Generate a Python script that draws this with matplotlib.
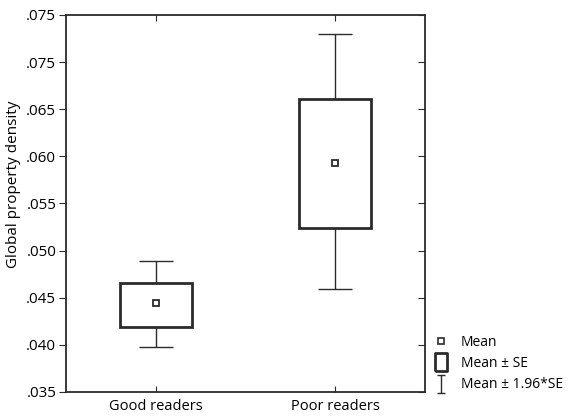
import numpy as np
import matplotlib
matplotlib.use('Agg')
import matplotlib.pyplot as plt
from matplotlib.lines import Line2D
from matplotlib.path import Path

# data
groups = ['Good readers', 'Poor readers']
means = [0.0444, 0.0593]
se_lo = [0.0419, 0.0524]
se_hi = [0.0466, 0.0661]
ci_lo = [0.0398, 0.0459]
ci_hi = [0.0489, 0.0730]

yticks = [0.035, 0.040, 0.045, 0.050, 0.055, 0.060, 0.065, 0.070, 0.075]
ytick_labels = ['.035', '.040', '.045', '.050', '.055', '.060', '.065', '.075', '.075']

dark = '#2b2b2b'
plt.rcParams['font.family'] = ['Open Sans', 'DejaVu Sans']
plt.rcParams['font.size'] = 10

fig = plt.figure(figsize=(5.7, 4.16), dpi=100)
ax = fig.add_axes([66/570, 24/416, 359/570, 377/416])

x = np.arange(1, len(groups) + 1)
box_w = 0.40
cap_w = 0.19

# whiskers
ax.vlines(x, ci_lo, se_lo, color=dark, lw=1.0, zorder=2)
ax.vlines(x, se_hi, ci_hi, color=dark, lw=1.0, zorder=2)
ax.hlines(ci_lo, x - cap_w/2, x + cap_w/2, color=dark, lw=1.0, zorder=2)
ax.hlines(ci_hi, x - cap_w/2, x + cap_w/2, color=dark, lw=1.0, zorder=2)

# SE boxes
heights = np.array(se_hi) - np.array(se_lo)
ax.bar(x, heights, bottom=se_lo, width=box_w, facecolor='white',
       edgecolor=dark, linewidth=2.0, zorder=3)

# means
ax.plot(x, means, 's', ms=5, mfc='white', mec=dark, mew=1.3, zorder=4)

ax.set_xlim(0.5, 2.5)
ax.set_ylim(0.035, 0.075)
ax.set_xticks(x)
ax.set_xticklabels(groups, fontsize=10.5)
ax.set_yticks(yticks)
ax.set_yticklabels(ytick_labels, fontsize=11)
ax.set_ylabel('Global property density', fontsize=11)
ax.yaxis.set_label_coords(-0.125, 0.55)

for s in ax.spines.values():
    s.set_color(dark)
    s.set_linewidth(1.3)
ax.tick_params(axis='x', direction='in', top=True, length=4, color=dark, pad=5)
ax.tick_params(axis='y', direction='out', length=5, color=dark, pad=2)

sec = ax.secondary_yaxis('right')
sec.set_yticks(yticks)
sec.tick_params(direction='in', length=5, color=dark, labelright=False)
sec.spines['right'].set_visible(False)

# legend
ibeam = Path([(0, -1), (0, 1), (-0.45, 1), (0.45, 1), (-0.45, -1), (0.45, -1)],
             [Path.MOVETO, Path.LINETO, Path.MOVETO, Path.LINETO, Path.MOVETO, Path.LINETO])
handles = [
    Line2D([], [], ls='', marker='s', ms=5, mfc='white', mec=dark, mew=1.2),
    Line2D([], [], ls='', marker=Path([(-0.35, -0.5), (0.35, -0.5), (0.35, 0.5), (-0.35, 0.5), (-0.35, -0.5)]),
           ms=13, mfc='white', mec=dark, mew=2.0),
    Line2D([], [], ls='', marker=ibeam, ms=13, mfc='none', mec=dark, mew=1.0),
]
labels = ['Mean', 'Mean \u00b1 SE', 'Mean \u00b1 1.96*SE']
fig.legend(handles, labels, loc='upper left', bbox_to_anchor=(426/570, 1 - 328/416),
           frameon=False, fontsize=10, handlelength=1.2, handletextpad=0.8,
           labelspacing=0.45, borderpad=0)

fig.savefig('out.png', dpi=100)
